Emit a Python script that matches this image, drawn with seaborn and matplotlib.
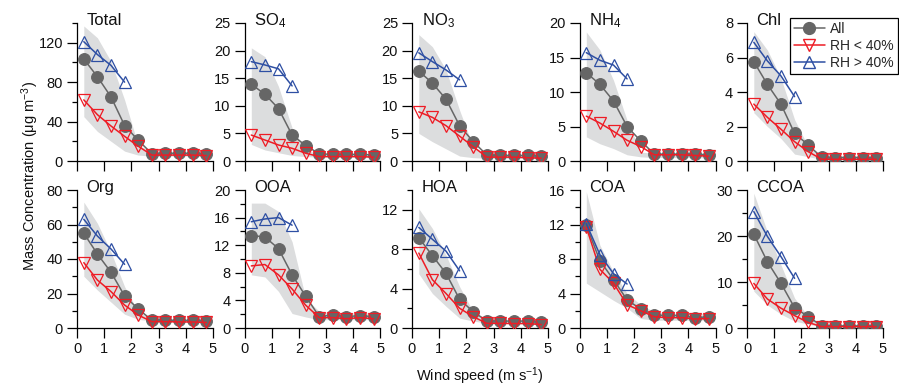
import matplotlib
matplotlib.use("Agg")
import matplotlib.pyplot as plt
import seaborn as sns
import pandas as pd
from matplotlib.ticker import MultipleLocator, NullLocator
from matplotlib.lines import Line2D

# ---------------- data ----------------
wind = [0.25, 0.75, 1.25, 1.75, 2.25, 2.75, 3.25, 3.75, 4.25, 4.75]
wind_hi = [0.25, 0.75, 1.25, 1.75]

panels = ["Total", "SO4", "NO3", "NH4", "Chl", "Org", "OOA", "HOA", "COA", "CCOA"]
titles = ["Total", "SO$_4$", "NO$_3$", "NH$_4$", "Chl", "Org", "OOA", "HOA", "COA", "CCOA"]

total_all = [103.5, 85.5, 65.0, 36.0, 21.0, 7.5, 7.8, 7.8, 7.8, 7.2]
total_lo = [62, 47, 35.5, 25, 15, 6, 6, 6, 6, 5.5]
total_hi = [121, 108, 97, 80]
total_up = [137, 125, 101, 62, 16, 10, 10, 10, 10, 10]
total_dn = [45, 30, 20, 10, 6, 5, 5, 5, 5, 4.5]

so4_all = [13.9, 12.1, 9.5, 4.7, 2.8, 1.3, 1.2, 1.2, 1.2, 1.1]
so4_lo = [4.7, 3.8, 2.9, 2.3, 1.4, 0.8, 0.8, 0.8, 0.8, 0.7]
so4_hi = [18.0, 17.4, 16.7, 13.6]
so4_up = [20.5, 18.9, 13.5, 6.0, 2.0, 1.3, 1.3, 1.3, 1.3, 1.2]
so4_dn = [3.0, 2.0, 1.5, 1.0, 0.8, 0.7, 0.7, 0.7, 0.7, 0.6]

no3_all = [16.3, 14.1, 11.2, 6.4, 3.5, 1.1, 1.0, 1.0, 1.0, 0.9]
no3_lo = [8.9, 7.9, 6.4, 4.5, 2.6, 0.7, 0.7, 0.7, 0.6, 0.5]
no3_hi = [19.6, 18.0, 16.5, 14.7]
no3_up = [22.9, 20.7, 16.5, 9.2, 2.6, 1.2, 1.2, 1.2, 1.2, 1.1]
no3_dn = [5.0, 3.5, 2.2, 0.9, 0.6, 0.5, 0.5, 0.5, 0.5, 0.4]

nh4_all = [12.8, 11.1, 8.7, 5.0, 2.9, 1.0, 1.0, 1.0, 1.0, 0.9]
nh4_lo = [6.5, 5.5, 4.3, 3.0, 2.1, 0.9, 0.9, 0.9, 0.8, 0.7]
nh4_hi = [15.7, 14.6, 13.9, 11.9]
nh4_up = [18.7, 16.1, 11.7, 5.9, 1.3, 1.1, 1.1, 1.1, 1.1, 1.0]
nh4_dn = [3.5, 2.5, 1.8, 0.9, 0.6, 0.5, 0.5, 0.5, 0.5, 0.4]

chl_all = [5.76, 4.44, 3.29, 1.6, 0.93, 0.21, 0.2, 0.2, 0.2, 0.18]
chl_lo = [3.3, 2.53, 1.84, 1.12, 0.54, 0.1, 0.1, 0.1, 0.1, 0.1]
chl_hi = [6.88, 5.8, 4.93, 3.73]
chl_up = [7.5, 6.43, 4.8, 2.4, 0.83, 0.3, 0.3, 0.3, 0.3, 0.3]
chl_dn = [2.8, 2.0, 1.3, 0.4, 0.25, 0.1, 0.1, 0.1, 0.1, 0.1]

org_all = [54.9, 42.9, 32.3, 18.6, 11.0, 4.6, 4.6, 4.4, 4.4, 4.2]
org_lo = [37.9, 27.8, 21.1, 13.3, 7.5, 3.7, 3.7, 3.5, 3.5, 3.2]
org_hi = [63.0, 53.3, 45.8, 36.9]
org_up = [73, 60.7, 44, 24, 9.5, 5.2, 5.2, 5.0, 5.0, 4.8]
org_dn = [30, 22, 15, 8, 5, 4, 4, 4, 4, 3.5]

ooa_all = [13.4, 13.2, 11.5, 7.7, 4.6, 1.64, 1.9, 1.64, 1.8, 1.64]
ooa_lo = [9.0, 9.2, 7.7, 5.65, 3.3, 1.5, 1.5, 1.35, 1.5, 1.35]
ooa_hi = [15.4, 15.8, 16.0, 14.9]
ooa_up = [18.1, 18.1, 16.9, 12.5, 4.3, 2.4, 2.2, 2.2, 2.2, 2.2]
ooa_dn = [7.7, 7.4, 5.3, 2.1, 1.6, 1.2, 1.2, 1.2, 1.2, 1.2]

hoa_all = [9.16, 7.34, 5.55, 2.9, 1.66, 0.71, 0.7, 0.7, 0.7, 0.6]
hoa_lo = [7.6, 4.9, 3.5, 2.0, 1.15, 0.47, 0.47, 0.45, 0.45, 0.35]
hoa_hi = [10.2, 9.0, 7.8, 5.8]
hoa_up = [12.1, 10.1, 7.4, 4.2, 1.66, 0.9, 0.9, 0.9, 0.9, 0.8]
hoa_dn = [5.5, 3.5, 2.2, 1.0, 0.7, 0.5, 0.5, 0.5, 0.5, 0.4]

coa_all = [11.9, 7.8, 5.6, 3.25, 2.2, 1.5, 1.45, 1.45, 1.2, 1.3]
coa_lo = [11.7, 6.8, 5.2, 2.7, 2.0, 1.3, 1.2, 1.2, 1.04, 1.1]
coa_hi = [12.1, 8.5, 6.3, 5.1]
coa_up = [15.8, 9.6, 6.5, 4.0, 2.7, 1.9, 1.7, 1.7, 1.7, 1.7]
coa_dn = [5.2, 4.2, 3.2, 2.3, 1.1, 0.9, 0.9, 0.9, 0.9, 0.9]

ccoa_all = [20.4, 14.4, 9.7, 4.4, 2.5, 0.43, 0.45, 0.45, 0.45, 0.4]
ccoa_lo = [9.7, 6.3, 4.3, 2.7, 1.2, 0.3, 0.3, 0.3, 0.3, 0.3]
ccoa_hi = [25.3, 19.9, 15.5, 10.8]
ccoa_up = [29.3, 20.9, 13.7, 6.5, 2.5, 0.8, 0.8, 0.8, 0.8, 0.8]
ccoa_dn = [8, 5, 3, 1.5, 0.8, 0.3, 0.3, 0.3, 0.3, 0.3]

ytops = [140, 25, 25, 20, 8, 80, 20, 14, 16, 30]
ymajor = [40, 5, 5, 5, 2, 20, 4, 4, 4, 10]
yminor = [20, None, None, None, None, 10, 2, 2, 2, 5]

series = {
    "Total": (total_all, total_lo, total_hi, total_up, total_dn),
    "SO4": (so4_all, so4_lo, so4_hi, so4_up, so4_dn),
    "NO3": (no3_all, no3_lo, no3_hi, no3_up, no3_dn),
    "NH4": (nh4_all, nh4_lo, nh4_hi, nh4_up, nh4_dn),
    "Chl": (chl_all, chl_lo, chl_hi, chl_up, chl_dn),
    "Org": (org_all, org_lo, org_hi, org_up, org_dn),
    "OOA": (ooa_all, ooa_lo, ooa_hi, ooa_up, ooa_dn),
    "HOA": (hoa_all, hoa_lo, hoa_hi, hoa_up, hoa_dn),
    "COA": (coa_all, coa_lo, coa_hi, coa_up, coa_dn),
    "CCOA": (ccoa_all, ccoa_lo, ccoa_hi, ccoa_up, ccoa_dn),
}

# ---------------- style ----------------
sns.set_theme(style="ticks")
plt.rcParams["font.family"] = ["Liberation Sans", "DejaVu Sans"]
plt.rcParams["mathtext.fontset"] = "custom"
plt.rcParams["mathtext.rm"] = "Liberation Sans"
plt.rcParams["mathtext.it"] = "Liberation Sans:italic"
plt.rcParams["mathtext.bf"] = "Liberation Sans:bold"

GRAY = "#666666"
SHADE = "#dcddde"
RED = "#ee1c25"
BLUE = "#2e4fa3"

W, H = 899, 386
fig = plt.figure(figsize=(W / 100, H / 100), dpi=100)

lefts = [77, 244.5, 412, 579.5, 747]
axw = 136
rows_top = [23, 190]
axh = 138

for i, name in enumerate(panels):
    r, c = divmod(i, 5)
    x0 = lefts[c]
    y_top = rows_top[r]
    ax = fig.add_axes([x0 / W, (H - y_top - axh) / H, axw / W, axh / H])
    a, lo, hi, up, dn = series[name]

    ax.fill_between(wind, dn, up, color=SHADE, linewidth=0, zorder=1)
    df_all = pd.DataFrame({"x": wind, "y": a})
    df_lo = pd.DataFrame({"x": wind, "y": lo})
    df_hi = pd.DataFrame({"x": wind_hi, "y": hi})
    sns.lineplot(data=df_all, x="x", y="y", ax=ax, color=GRAY, lw=1.1,
                 marker="o", markersize=8.5, markerfacecolor=GRAY,
                 markeredgecolor=GRAY, sort=False, errorbar=None, zorder=3)
    sns.lineplot(data=df_lo, x="x", y="y", ax=ax, color=RED, lw=1.1,
                 marker="v", markersize=8.5, markerfacecolor="none",
                 markeredgecolor=RED, markeredgewidth=0.9,
                 sort=False, errorbar=None, zorder=4)
    sns.lineplot(data=df_hi, x="x", y="y", ax=ax, color=BLUE, lw=1.1,
                 marker="^", markersize=8.5, markerfacecolor="none",
                 markeredgecolor=BLUE, markeredgewidth=0.9,
                 sort=False, errorbar=None, zorder=5)

    ax.set_xlim(0, 5)
    ax.set_ylim(0, ytops[i])
    ax.xaxis.set_major_locator(MultipleLocator(1))
    ax.yaxis.set_major_locator(MultipleLocator(ymajor[i]))
    if yminor[i]:
        ax.yaxis.set_minor_locator(MultipleLocator(yminor[i]))
    else:
        ax.yaxis.set_minor_locator(NullLocator())
    ax.set_xlabel("")
    ax.set_ylabel("")
    for s in ["top", "right"]:
        ax.spines[s].set_visible(False)
    for s in ["left", "bottom"]:
        ax.spines[s].set_linewidth(0.9)
        ax.spines[s].set_color("black")
    ax.tick_params(axis="both", which="major", direction="out", length=7,
                   width=0.9, color="black", labelsize=10.5, pad=3,
                   labelcolor="#111111")
    ax.tick_params(axis="y", which="minor", direction="out", length=3.5,
                   width=0.9, color="black")
    if r == 0:
        ax.tick_params(axis="x", labelbottom=False)
    ax.text(0.07, 0.985, titles[i], transform=ax.transAxes, fontsize=12,
            ha="left", va="baseline", color="#111111", zorder=6)

fig.text(480 / W, 1 - 376 / H, "Wind speed (m s$^{-1}$)", ha="center",
         va="center", fontsize=10.5, color="#111111")
fig.text(30 / W, 1 - 176 / H, "Mass Concentration (μg m$^{-3}$)", ha="center",
         va="center", rotation=90, fontsize=10.5, color="#111111")

handles = [
    Line2D([], [], color=GRAY, lw=1.1, marker="o", markersize=8.5,
           markerfacecolor=GRAY, markeredgecolor=GRAY),
    Line2D([], [], color=RED, lw=1.1, marker="v", markersize=8.5,
           markerfacecolor="none", markeredgecolor=RED),
    Line2D([], [], color=BLUE, lw=1.1, marker="^", markersize=8.5,
           markerfacecolor="none", markeredgecolor=BLUE),
]
leg = fig.legend(handles, ["All", "RH < 40%", "RH > 40%"],
                 loc="upper right", bbox_to_anchor=(898 / W, 1 - 18 / H),
                 frameon=True, fancybox=False, fontsize=10,
                 handlelength=2.2, handletextpad=0.4, labelspacing=0.2,
                 borderpad=0.3, borderaxespad=0)
leg.get_frame().set_edgecolor("black")
leg.get_frame().set_linewidth(0.9)
leg.get_frame().set_alpha(1)

fig.savefig("out.png", dpi=100)
